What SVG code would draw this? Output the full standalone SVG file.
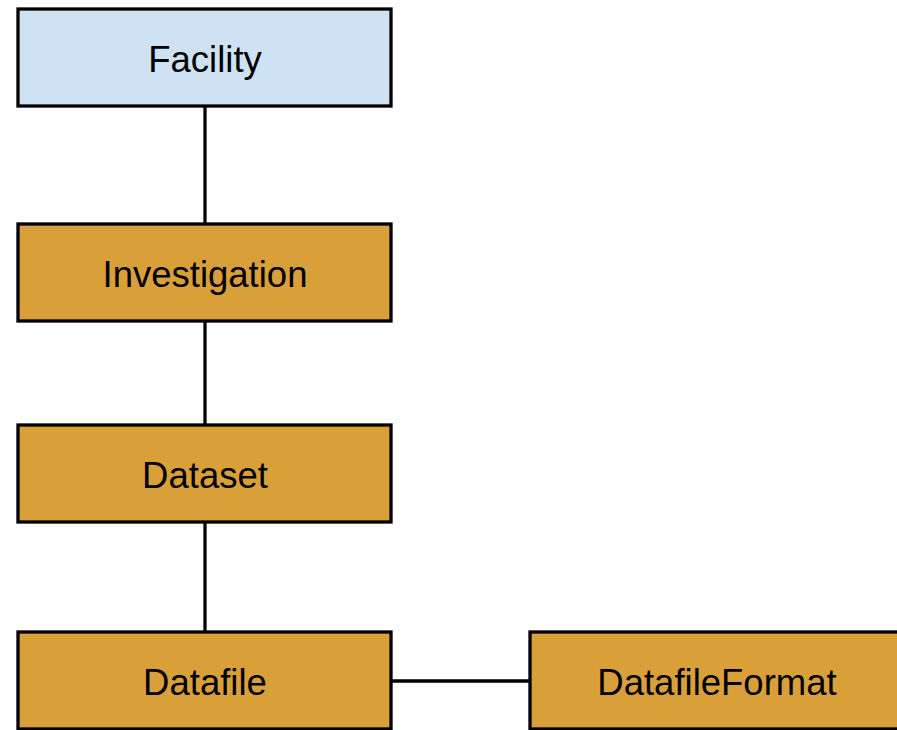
<svg xmlns="http://www.w3.org/2000/svg" width="897" height="730" viewBox="0 0 897 730">
<style>
.box{stroke:#000;stroke-width:3.3}
.blue{fill:#cfe2f3}
.orange{fill:#d99f39}
.lbl{font-family:"Liberation Sans",Arial,sans-serif;font-size:36.5px;fill:#000;text-anchor:middle}
.conn{stroke:#000;stroke-width:3.3;fill:none}
</style>
<rect width="897" height="730" fill="#fff"/>
<g id="connectors">
<line class="conn" x1="205" y1="106" x2="205" y2="224"/>
<line class="conn" x1="205" y1="321" x2="205" y2="425"/>
<line class="conn" x1="205" y1="522" x2="205" y2="632"/>
<line class="conn" x1="391" y1="681" x2="530" y2="681"/>
</g>
<g id="facility">
<rect class="box blue" x="18" y="9" width="373" height="97"/>
<text class="lbl" x="205" y="72">Facility</text>
</g>
<g id="investigation">
<rect class="box orange" x="18" y="224" width="373" height="97"/>
<text class="lbl" x="205" y="287">Investigation</text>
</g>
<g id="dataset">
<rect class="box orange" x="18" y="425" width="373" height="97"/>
<text class="lbl" x="205" y="488">Dataset</text>
</g>
<g id="datafile">
<rect class="box orange" x="18" y="632" width="373" height="97"/>
<text class="lbl" x="205" y="695">Datafile</text>
</g>
<g id="datafileformat">
<rect class="box orange" x="530" y="632" width="373" height="97"/>
<text class="lbl" x="717" y="695">DatafileFormat</text>
</g>
</svg>
